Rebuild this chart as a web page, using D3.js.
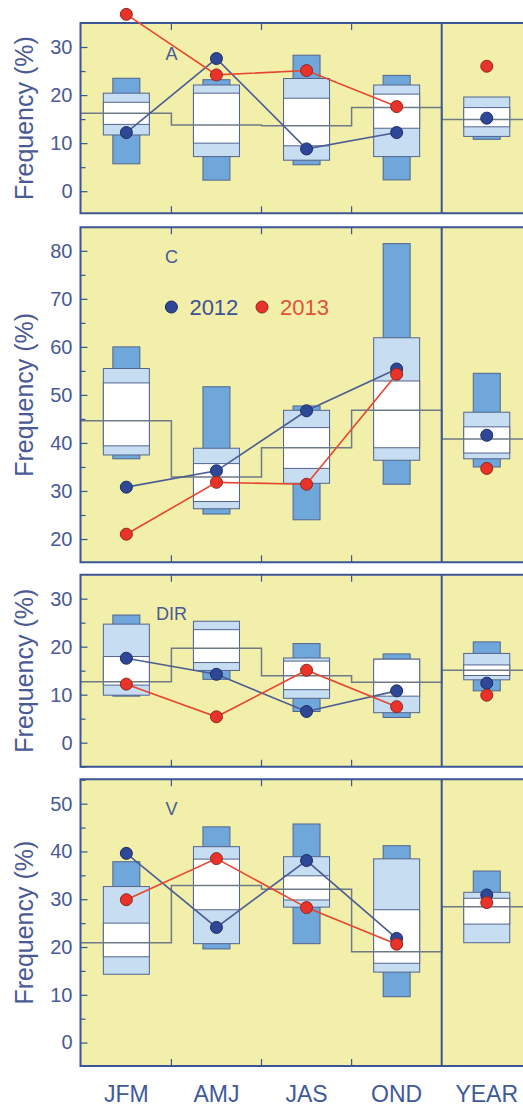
<!DOCTYPE html>
<html><head><meta charset="utf-8">
<script src="https://cdn.jsdelivr.net/npm/d3@7"></script>
<style>body{margin:0;background:#fff}svg{display:block}</style>
</head><body>
<svg id="chart" width="523" height="1106"></svg>
<script>
// ---------- DATA ----------
const categories = ["JFM","AMJ","JAS","OND","YEAR"];
const panelNames = ["A","C","DIR","V"];
const legendLabels = ["2012","2013"];

// Panel A
const aOuter = [[5.7,23.5],[2.3,23.2],[5.5,28.3],[2.35,24.1],[10.8,19.0]];
const aMid   = [[11.7,20.4],[7.2,22.1],[6.45,23.45],[7.2,22.1],[11.4,19.6]];
const aInner = [[13.9,18.5],[10.0,20.4],[9.45,19.35],[13.1,20.2],[13.4,17.4]];
const aMean  = [16.2,13.75,13.6,17.4,14.9];
const a2012  = [12.2,27.6,8.8,12.2,15.2];
const a2013  = [36.8,24.2,25.1,17.6,26.0];

// Panel C
const cOuter = [[36.7,60.0],[25.2,51.7],[24.0,47.7],[31.4,81.5],[35.0,54.5]];
const cMid   = [[37.5,55.5],[26.3,38.9],[31.6,46.8],[36.4,61.9],[36.7,46.4]];
const cInner = [[39.4,52.5],[27.8,35.7],[34.7,43.2],[39.0,52.9],[37.9,43.35]];
const cMean  = [44.6,32.9,39.0,46.8,40.8];
const c2012  = [30.8,34.2,46.7,55.4,41.6];
const c2013  = [21.0,31.8,31.4,54.3,34.7];

// Panel DIR
const dOuter = [[9.7,26.6],[13.2,24.0],[6.5,20.65],[5.25,18.5],[10.8,21.0]];
const dMid   = [[9.9,24.7],[15.05,25.3],[9.25,17.65],[6.25,17.4],[13.1,18.6]];
const dInner = [[12.0,17.95],[16.7,23.55],[11.05,17.0],[9.7,17.4],[14.0,16.2]];
const dMean  = [12.7,19.7,13.95,12.6,15.1];
const d2012  = [17.6,14.25,6.5,10.8,12.4];
const d2013  = [12.2,5.4,15.1,7.5,9.9];

// Panel V
const vOuter = [[16.0,37.85],[19.6,45.15],[20.7,45.75],[9.6,41.2],[22.0,35.9]];
const vMid   = [[14.3,32.65],[20.7,41.0],[28.35,38.9],[14.75,38.45],[20.9,31.45]];
const vInner = [[17.95,25.0],[27.8,38.4],[29.85,34.9],[16.6,27.8],[24.8,30.2]];
const vMean  = [20.9,32.85,32.1,19.0,28.45];
const v2012  = [39.6,24.1,38.1,21.8,30.9];
const v2013  = [29.9,38.5,28.25,20.6,29.3];

const ticksA = [0,10,20,30];
const ticksC = [20,30,40,50,60,70,80];
const ticksD = [0,10,20,30];
const ticksV = [0,10,20,30,40,50];

// ---------- LAYOUT ----------
const panels = [
  {name:panelNames[0], top:23,    bottom:213.3, domain:[-4.6,35],    ticks:ticksA, outer:aOuter, mid:aMid, inner:aInner, mean:aMean, s1:a2012, s2:a2013, labelDy:37},
  {name:panelNames[1], top:227.3, bottom:562.3, domain:[15.15,84.9], ticks:ticksC, outer:cOuter, mid:cMid, inner:cInner, mean:cMean, s1:c2012, s2:c2013, labelDy:35.5, legend:true},
  {name:panelNames[2], top:574.7, bottom:766.7, domain:[-5,35],      ticks:ticksD, outer:dOuter, mid:dMid, inner:dInner, mean:dMean, s1:d2012, s2:d2013, labelDy:45.3},
  {name:panelNames[3], top:779.3, bottom:1066,  domain:[-4.9,55.1],  ticks:ticksV, outer:vOuter, mid:vMid, inner:vInner, mean:vMean, s1:v2012, s2:v2013, labelDy:35.7}
];

const C = {
  bg:"#f1efaa", border:"#3b5596", dark:"#70a7db", light:"#c7ddf1", white:"#ffffff",
  boxStroke:"#52648f", step:"#6e7b86", text:"#4a5a95",
  blue:"#2f4797", blueStroke:"#1c2a62", blueLine:"#4b5d94",
  red:"#e9322a", redStroke:"#8e2a20", redLine:"#e6462f", redText:"#df5338"
};
const FONT = "'Liberation Sans', Arial, Helvetica, sans-serif";

const svg = d3.select("#chart");
const plotLeft = 80.5;
const x = d3.scaleBand().domain(categories).range([81.3, 531.8]).paddingInner(0).paddingOuter(0);
const bw = x.bandwidth();
const cx = c => x(c) + bw/2;
const wideW = 46, narrowW = 27;

panels.forEach(p => {
  const y = d3.scaleLinear().domain(p.domain).range([p.bottom, p.top]);
  const g = svg.append("g");

  g.append("rect").attr("x", plotLeft).attr("y", p.top)
    .attr("width", 600).attr("height", p.bottom - p.top)
    .attr("fill", C.bg).attr("stroke", "none");

  // boxes
  const bx = g.append("g");
  categories.forEach((cat, i) => {
    const o = p.outer[i], m = p.mid[i], n = p.inner[i];
    bx.append("rect").attr("x", cx(cat) - narrowW/2).attr("width", narrowW)
      .attr("y", y(o[1])).attr("height", y(o[0]) - y(o[1]))
      .attr("fill", C.dark).attr("stroke", C.boxStroke).attr("stroke-width", 1);
    bx.append("rect").attr("x", cx(cat) - wideW/2).attr("width", wideW)
      .attr("y", y(m[1])).attr("height", y(m[0]) - y(m[1]))
      .attr("fill", C.light).attr("stroke", C.boxStroke).attr("stroke-width", 1);
    bx.append("rect").attr("x", cx(cat) - wideW/2).attr("width", wideW)
      .attr("y", y(n[1])).attr("height", y(n[0]) - y(n[1]))
      .attr("fill", C.white).attr("stroke", C.boxStroke).attr("stroke-width", 1);
  });

  // step line of means
  const stepPts = categories.map((cat, i) => [i === 0 ? plotLeft : x(cat), y(p.mean[i])]);
  stepPts.push([x(categories[4]) + bw + 20, y(p.mean[4])]);
  g.append("path").attr("d", d3.line().curve(d3.curveStepAfter)(stepPts))
    .attr("fill", "none").attr("stroke", C.step).attr("stroke-width", 1.5);

  // divider
  g.append("line").attr("x1", x("YEAR")).attr("x2", x("YEAR"))
    .attr("y1", p.top).attr("y2", p.bottom)
    .attr("stroke", C.border).attr("stroke-width", 2);

  // border (left, top, bottom)
  g.append("path")
    .attr("d", `M600,${p.top}H${plotLeft}V${p.bottom}H600`)
    .attr("fill", "none").attr("stroke", C.border).attr("stroke-width", 2);

  // band-boundary ticks at top & bottom
  categories.slice(1, 4).forEach(cat => {
    g.append("line").attr("x1", x(cat)).attr("x2", x(cat)).attr("y1", p.top).attr("y2", p.top + 7)
      .attr("stroke", C.border).attr("stroke-width", 1.2);
    g.append("line").attr("x1", x(cat)).attr("x2", x(cat)).attr("y1", p.bottom).attr("y2", p.bottom - 7)
      .attr("stroke", C.border).attr("stroke-width", 1.2);
  });

  // y axis
  const ax = g.append("g").attr("transform", `translate(${plotLeft},0)`)
    .call(d3.axisLeft(y).tickValues(p.ticks).tickSizeInner(-7).tickSizeOuter(0).tickPadding(8));
  ax.select(".domain").remove();
  ax.selectAll(".tick line").attr("stroke", C.border).attr("stroke-width", 1.2);
  ax.selectAll(".tick text").attr("fill", C.text).attr("font-family", FONT).attr("font-size", 20);
  const minor = d3.range(Math.ceil(p.domain[0]/5)*5, p.domain[1], 5).filter(v => v % 10 !== 0);
  const ax2 = g.append("g").attr("transform", `translate(${plotLeft},0)`)
    .call(d3.axisLeft(y).tickValues(minor).tickSizeInner(-5).tickSizeOuter(0).tickFormat(""));
  ax2.select(".domain").remove();
  ax2.selectAll(".tick line").attr("stroke", C.border).attr("stroke-width", 1.2);

  // y title
  g.append("text").attr("transform", `translate(33,${(p.top + p.bottom)/2}) rotate(-90)`)
    .attr("text-anchor", "middle").attr("font-family", FONT).attr("font-size", 25)
    .attr("fill", C.text).text("Frequency (%)");

  // panel label
  g.append("text").attr("x", x("AMJ")).attr("y", p.top + p.labelDy)
    .attr("text-anchor", "middle").attr("font-family", FONT).attr("font-size", 18)
    .attr("fill", C.text).text(p.name);

  // series lines
  const seasons = categories.slice(0, 4);
  const line = d3.line().x(d => cx(d.c)).y(d => y(d.v));
  g.append("path").attr("d", line(seasons.map((c, i) => ({c, v:p.s1[i]}))))
    .attr("fill", "none").attr("stroke", C.blueLine).attr("stroke-width", 1.6);
  g.append("path").attr("d", line(seasons.map((c, i) => ({c, v:p.s2[i]}))))
    .attr("fill", "none").attr("stroke", C.redLine).attr("stroke-width", 1.6);

  // dots
  categories.forEach((c, i) => {
    g.append("circle").attr("cx", cx(c)).attr("cy", y(p.s1[i])).attr("r", 6)
      .attr("fill", C.blue).attr("stroke", C.blueStroke).attr("stroke-width", 1);
  });
  categories.forEach((c, i) => {
    g.append("circle").attr("cx", cx(c)).attr("cy", y(p.s2[i])).attr("r", 6)
      .attr("fill", C.red).attr("stroke", C.redStroke).attr("stroke-width", 1);
  });

  // legend
  if (p.legend) {
    const ly = y(68.3);
    g.append("circle").attr("cx", x("AMJ")).attr("cy", ly).attr("r", 6)
      .attr("fill", C.blue).attr("stroke", C.blueStroke);
    g.append("text").attr("x", x("AMJ") + 18).attr("y", ly + 8)
      .attr("font-family", FONT).attr("font-size", 22).attr("fill", "#3f5191").text(legendLabels[0]);
    g.append("circle").attr("cx", x("JAS") + 0.5).attr("cy", ly).attr("r", 6)
      .attr("fill", C.red).attr("stroke", C.redStroke);
    g.append("text").attr("x", x("JAS") + 18.5).attr("y", ly + 8)
      .attr("font-family", FONT).attr("font-size", 22).attr("fill", C.redText).text(legendLabels[1]);
  }

  // category labels on bottom panel
  if (p.name === "V") {
    const bxAxis = g.append("g").attr("transform", `translate(0,${p.bottom})`)
      .call(d3.axisBottom(x).tickSize(0).tickPadding(20));
    bxAxis.select(".domain").remove();
    bxAxis.selectAll(".tick text").attr("fill", "#3e5a9a").attr("font-family", FONT).attr("font-size", 23);
  }
});
</script>
</body></html>
